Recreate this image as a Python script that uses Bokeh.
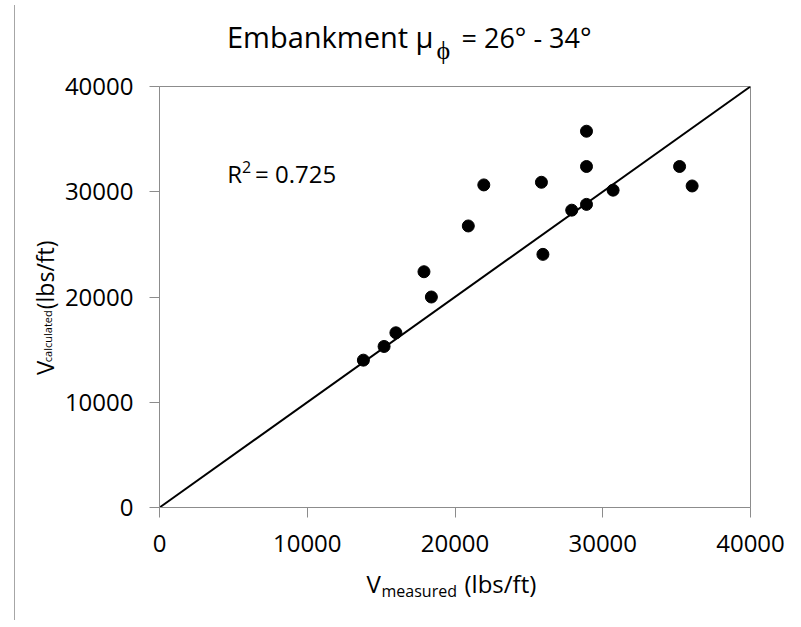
import math
from bokeh.plotting import figure
from bokeh.models import Label, Range1d, FixedTicker, Div
from bokeh.layouts import row, column
from bokeh.embed import file_html
from bokeh.resources import INLINE

# ---- data ----
measured = [13800, 15200, 16000, 17900, 18400, 20900, 21950, 25850, 25950,
            27900, 28900, 28900, 28900, 30700, 35200, 36050]
calculated = [14000, 15300, 16600, 22400, 20000, 26750, 30650, 30900, 24050,
              28250, 28800, 32400, 35750, 30150, 32400, 30550]
line_x = [0, 40000]
line_y = [0, 40000]
ticks = [0, 10000, 20000, 30000, 40000]
r2_text = "= 0.725"

FONT = "Open Sans"
GRAY = "#8c8c8c"

# ---- layout constants (page pixels) ----
ORG_X, ORG_Y = 21, 0          # where the column of figures starts on the page
TOP_H = 68                    # title strip height
YLAB_W = 41                   # y-title strip width
MAIN_W = 727
MAIN_H = 562 - TOP_H
BOT_H = 48
FULL_W = YLAB_W + MAIN_W
FRAME_L, FRAME_R = 157, 751
FRAME_T, FRAME_B = 86, 507
MAIN_X = ORG_X + YLAB_W
MAIN_Y = ORG_Y + TOP_H
XU = 40000 / (FRAME_R - FRAME_L)
YU = 40000 / (FRAME_B - FRAME_T)
ROT_FIX = 26                  # observed offset of rotated labels, px


def shift(size):
    # observed baseline shift of rendered labels, in px
    return 0.38 * size


def strip(w, h):
    f = figure(width=w, height=h, x_range=Range1d(0, w), y_range=Range1d(h, 0),
               output_backend="svg", toolbar_location=None,
               x_axis_location=None, y_axis_location=None,
               min_border_left=0, min_border_right=0,
               min_border_top=0, min_border_bottom=0)
    f.grid.visible = False
    f.outline_line_color = None
    f.background_fill_color = "white"
    f.border_fill_color = "white"
    return f


def lab(fig, text, x, y, size, align="left", baseline="alphabetic", angle=0.0):
    fig.add_layout(Label(x=x, y=y, text=text, text_font=FONT,
                         text_font_size=f"{size}px", text_align=align,
                         text_baseline=baseline, text_color="black",
                         angle=angle))


def hlab(fig, text, px, py, size, ox, oy, align="left"):
    lab(fig, text, px - ox, py - oy - shift(size), size, align)


def vlab(fig, text, base_x, center_y, size, ox, oy):
    # rotated piece, anchored at its centre
    lab(fig, text, base_x - ox - shift(size), center_y - oy + ROT_FIX, size,
        align="center", baseline="middle", angle=math.pi / 2)


# ---- main plot ----
p = figure(width=MAIN_W, height=MAIN_H,
           x_range=Range1d(0, 40000), y_range=Range1d(0, 40000),
           output_backend="svg", toolbar_location=None,
           min_border_left=FRAME_L - MAIN_X,
           min_border_right=MAIN_W - (FRAME_R - MAIN_X),
           min_border_top=FRAME_T - MAIN_Y,
           min_border_bottom=MAIN_H - (FRAME_B - MAIN_Y))

p.background_fill_color = "white"
p.border_fill_color = "white"
p.outline_line_color = GRAY
p.outline_line_width = 1
p.xgrid.visible = False
p.ygrid.visible = False

for ax in (p.xaxis[0], p.yaxis[0]):
    ax.ticker = FixedTicker(ticks=ticks)
    ax.axis_line_color = GRAY
    ax.major_tick_line_color = GRAY
    ax.major_tick_in = 0
    ax.major_tick_out = 10
    ax.minor_tick_line_color = None
    ax.major_label_text_font = FONT
    ax.major_label_text_font_size = "24px"
    ax.major_label_text_color = "black"
p.xaxis[0].major_label_standoff = 17
p.yaxis[0].major_label_standoff = 16

p.line(line_x, line_y, line_color="black", line_width=2)
p.scatter(measured, calculated, size=12, fill_color="black", line_color="black")


def plab(text, px, py, size):
    lab(p, text, (px - FRAME_L) * XU, (FRAME_B - (py - shift(size))) * YU, size)


# R^2 annotation inside the plot area
plab("R", 225, 182, 24)
plab("2", 240, 173, 16)
plab(r2_text, 253, 182, 24)

# ---- title strip ----
t = strip(FULL_W, TOP_H)
hlab(t, "Embankment \u03bc", 434, 47, 29, ORG_X, ORG_Y, align="right")
hlab(t, "\u03d5", 437, 58, 26, ORG_X, ORG_Y)
hlab(t, "= 26\u00b0 - 34\u00b0", 462, 47, 27, ORG_X, ORG_Y)

# ---- y title strip ----
yl = strip(YLAB_W, MAIN_H)
vlab(yl, "V", 54, 372, 24, ORG_X, MAIN_Y)
vlab(yl, "calculated", 52, 335, 11, ORG_X, MAIN_Y)
vlab(yl, "(lbs/ft)", 54, 263, 23, ORG_X, MAIN_Y)

# ---- x title strip ----
BOT_Y = MAIN_Y + MAIN_H
xl = strip(FULL_W, BOT_H)
hlab(xl, "V", 367, 592, 24, ORG_X, BOT_Y)
hlab(xl, "measured", 382, 597, 16, ORG_X, BOT_Y)
hlab(xl, "(lbs/ft)", 465, 592, 24, ORG_X, BOT_Y)

edge = Div(width=10, height=615, styles={"border-right": "1px solid #a6a6a6"})
layout = row(edge, column(t, row(yl, p), xl))

open("out.html", "w").write(file_html(layout, INLINE))
